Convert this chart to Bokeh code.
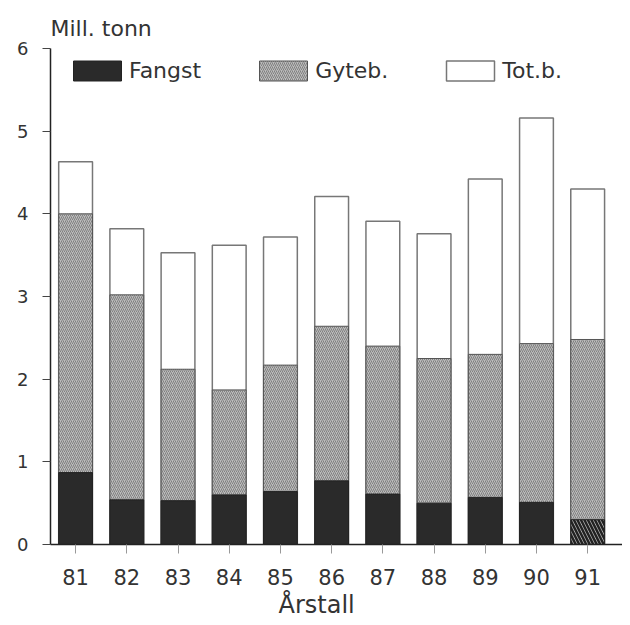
from bokeh.plotting import figure
from bokeh.models import ColumnDataSource, FixedTicker, Legend, LegendItem, Title
from bokeh.embed import file_html
from bokeh.resources import INLINE

# ---- data ----
years = [81, 82, 83, 84, 85, 86, 87, 88, 89, 90, 91]
fangst = [0.87, 0.54, 0.53, 0.60, 0.64, 0.77, 0.61, 0.50, 0.57, 0.51, 0.30]
gyteb = [4.00, 3.02, 2.12, 1.87, 2.17, 2.64, 2.40, 2.25, 2.30, 2.43, 2.48]
totb = [4.63, 3.82, 3.53, 3.62, 3.72, 4.21, 3.91, 3.76, 4.42, 5.16, 4.30]
prognose_year = 91
y_ticks = [0, 1, 2, 3, 4, 5, 6]
series_names = ["Fangst", "Gyteb.", "Tot.b."]
y_title = "Mill. tonn"
x_title = "Årstall"

FONT = "DejaVu Sans"
TXT = "#333333"

fan_fill = ["#bdbdbd" if y >= prognose_year else "#2a2a2a" for y in years]
fan_hatch = ["left_diagonal_line" if y >= prognose_year else " " for y in years]

src = ColumnDataSource(dict(x=years, tot=totb, gyt=gyteb, fan=fangst,
                            fcol=fan_fill, fhatch=fan_hatch))

p = figure(frame_width=572, frame_height=496,
           x_range=(80.51, 91.68), y_range=(0, 6),
           output_backend="svg", toolbar_location=None,
           min_border_left=50, min_border_top=48,
           min_border_right=0, min_border_bottom=0,
           background_fill_color="white", border_fill_color="white")

p.outline_line_color = None
p.xgrid.visible = False
p.ygrid.visible = False

# title (unit)
p.title.text = y_title
p.title.align = "left"
p.title.offset = 0
p.title.standoff = 16
p.title.text_font = FONT
p.title.text_font_size = "22px"
p.title.text_font_style = "normal"
p.title.text_color = TXT

bw = 0.66
r_tot = p.vbar(x="x", top="tot", width=bw, source=src,
               fill_color="white", line_color="#777777", line_width=1.5)
r_gyt = p.vbar(x="x", top="gyt", width=bw, source=src,
               fill_color="#bcbcbc", line_color="#555555", line_width=1,
               hatch_pattern="right_diagonal_line", hatch_color="#808080",
               hatch_scale=4, hatch_weight=1)
r_fan = p.vbar(x="x", top="fan", width=bw, source=src,
               fill_color="fcol", line_color="#222222", line_width=1,
               hatch_pattern="fhatch", hatch_color="#222222",
               hatch_scale=7, hatch_weight=2.5)

legend = Legend(items=[
    LegendItem(label=series_names[0], renderers=[r_fan], index=0),
    LegendItem(label=series_names[1], renderers=[r_gyt], index=0),
    LegendItem(label=series_names[2], renderers=[r_tot], index=0),
], location=(17, 461), orientation="horizontal",
    glyph_width=60, glyph_height=25, label_standoff=2, spacing=52,
    padding=0, margin=0, border_line_alpha=0, background_fill_alpha=0,
    label_text_font=FONT, label_text_font_size="22px", label_text_color=TXT)
p.add_layout(legend)

# axes
xa = p.xaxis[0]
xa.ticker = FixedTicker(ticks=years)
xa.major_label_text_font = FONT
xa.major_label_text_font_size = "21px"
xa.major_label_text_color = TXT
xa.major_tick_in = 0
xa.major_tick_out = 9
xa.major_tick_line_color = "#999999"
xa.minor_tick_line_color = None
xa.axis_line_width = 1.5
xa.axis_line_color = "#222222"
xa.major_label_standoff = 15

ya = p.yaxis[0]
ya.ticker = FixedTicker(ticks=y_ticks)
ya.major_label_text_font = FONT
ya.major_label_text_font_size = "18px"
ya.major_label_text_color = TXT
ya.major_tick_in = 0
ya.major_tick_out = 8
ya.major_tick_line_color = "#444444"
ya.minor_tick_line_color = None
ya.axis_line_width = 1.5
ya.axis_line_color = "#222222"
ya.major_label_standoff = 14

p.add_layout(Title(text=x_title, align="left", offset=228,
                   text_font=FONT, text_font_size="24px",
                   text_font_style="normal", text_color=TXT, standoff=2), "below")

open("out.html", "w").write(file_html(p, INLINE))
